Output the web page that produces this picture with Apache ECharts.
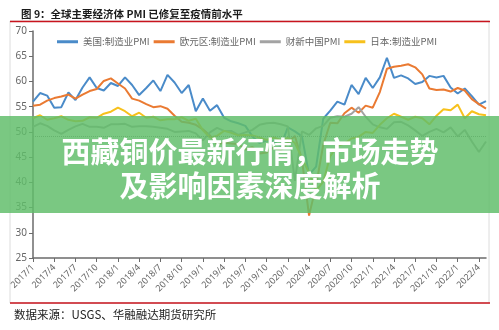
<!DOCTYPE html>
<html>
<head>
<meta charset="utf-8">
<script src="https://cdn.jsdelivr.net/npm/echarts@6/dist/echarts.min.js"></script>
<style>
html,body{margin:0;padding:0;background:#fff;}
#chart{width:499px;height:330px;}
</style>
</head>
<body>
<div id="chart"></div>
<script>
const months = [
'2017/1','2017/2','2017/3','2017/4','2017/5','2017/6','2017/7','2017/8','2017/9','2017/10','2017/11','2017/12',
'2018/1','2018/2','2018/3','2018/4','2018/5','2018/6','2018/7','2018/8','2018/9','2018/10','2018/11','2018/12',
'2019/1','2019/2','2019/3','2019/4','2019/5','2019/6','2019/7','2019/8','2019/9','2019/10','2019/11','2019/12',
'2020/1','2020/2','2020/3','2020/4','2020/5','2020/6','2020/7','2020/8','2020/9','2020/10','2020/11','2020/12',
'2021/1','2021/2','2021/3','2021/4','2021/5','2021/6','2021/7','2021/8','2021/9','2021/10','2021/11','2021/12',
'2022/1','2022/2','2022/3','2022/4','2022/5'
];
const usPMI = [
56.0,57.7,57.2,54.8,54.9,57.8,56.3,58.8,60.8,58.7,58.2,59.7,
59.1,60.8,59.3,57.3,58.7,60.2,58.1,61.3,59.8,57.7,59.3,54.1,
56.6,54.2,55.3,52.8,52.1,51.7,51.2,49.1,47.8,48.3,48.1,47.2,
50.9,50.1,49.1,41.5,43.1,52.6,54.2,56.0,55.4,59.3,57.5,60.7,
58.7,60.8,64.7,60.7,61.2,60.6,59.5,59.9,61.1,60.8,61.1,58.8,
57.6,58.6,57.1,55.4,56.1
];
const euroPMI = [
55.2,55.4,56.2,56.7,57.0,57.4,56.6,57.4,58.1,58.5,60.1,60.6,
59.6,58.6,56.6,56.2,55.5,54.9,55.1,54.6,53.2,52.0,51.8,51.4,
50.5,49.3,47.5,47.9,47.7,47.6,46.5,47.0,45.7,45.9,46.9,46.3,
47.9,49.2,44.5,33.4,39.4,47.4,51.8,51.7,53.7,54.8,53.8,55.2,
54.8,57.9,62.5,62.9,63.1,63.4,62.8,61.4,58.6,58.3,58.4,58.0,
58.7,58.2,56.5,55.5,54.6
];
const caixinPMI = [
51.0,51.7,51.2,50.3,49.6,50.4,51.1,51.6,51.0,51.0,50.8,51.5,
51.5,51.6,51.0,51.1,51.1,51.0,50.8,50.6,50.0,50.1,50.2,49.7,
48.3,49.9,50.8,50.2,50.2,49.4,49.9,50.4,51.4,51.7,51.8,51.5,
51.1,40.3,50.1,49.4,50.7,51.2,52.8,53.1,53.0,53.6,54.9,53.0,
51.5,50.9,50.6,51.9,52.0,51.3,50.3,49.2,50.0,50.6,49.9,50.9,
49.1,50.4,48.1,46.0,48.1
];
const japanPMI = [
52.7,53.3,52.4,52.7,53.1,52.4,52.1,52.2,52.9,52.8,53.6,54.0,
54.8,54.1,53.1,53.8,52.8,53.0,52.3,52.5,52.5,52.9,52.2,52.6,
50.3,48.9,49.2,50.2,49.8,49.3,49.4,49.3,48.9,48.4,48.9,48.4,
48.8,47.8,44.8,41.9,38.4,40.1,45.2,47.2,47.7,48.7,49.0,50.0,
49.8,51.4,52.7,53.6,53.0,52.4,53.0,52.7,51.5,53.2,54.5,54.3,
55.4,52.7,54.1,53.5,53.3
];
const seriesNames = ['美国:制造业PMI','欧元区:制造业PMI','财新中国PMI','日本:制造业PMI'];
const seriesColors = ['#4a8bc9','#ea7a32','#a3a3a3','#f7c11c'];
const refLevel = 49.2;

const chart = echarts.init(document.getElementById('chart'), null, {renderer:'canvas'});
const dataSets = [usPMI, euroPMI, caixinPMI, japanPMI];
const series = dataSets.map((d,i)=>({
  name: seriesNames[i],
  type:'line',
  data:d,
  showSymbol:false,
  symbol:'none',
  lineStyle:{width:2,color:seriesColors[i]},
  itemStyle:{color:seriesColors[i]},
  z: 2,
  markLine: i===0 ? {
    silent:true, symbol:'none', label:{show:false},
    lineStyle:{type:'dotted',color:'#7f7f7f',width:1},
    data:[{yAxis:refLevel}]
  } : undefined
}));

chart.setOption({
  animation:false,
  backgroundColor:'#fff',
  textStyle:{fontFamily:'"Noto Sans CJK SC", "Noto Sans", sans-serif'},
  title:{
    text:'图 9：全球主要经济体 PMI 已修复至疫情前水平',
    left:16, top:4,
    textStyle:{fontSize:10.5,fontWeight:'bold',color:'#1a1a1a',fontFamily:'"Noto Sans CJK SC", sans-serif'}
  },
  legend:{
    data:seriesNames,
    left:52, top:32,
    icon:'rect', itemWidth:21, itemHeight:3, itemGap:4,
    textStyle:{fontSize:9.5,color:'#666',fontFamily:'"Noto Sans CJK SC", sans-serif'}
  },
  grid:{left:33,right:13,top:31,bottom:72,containLabel:false},
  xAxis:{
    type:'category',
    data:months,
    boundaryGap:false,
    axisLine:{lineStyle:{color:'#6b6b6b',width:1.5}},
    axisTick:{show:true,interval:2,length:4,lineStyle:{color:'#6b6b6b'}},
    axisLabel:{interval:2,rotate:45,fontSize:9,color:'#666',margin:8,fontFamily:'"Noto Sans", sans-serif'},
    splitLine:{show:false}
  },
  yAxis:{
    type:'value',
    min:25,max:70,interval:5,
    axisLine:{show:true,lineStyle:{color:'#6b6b6b',width:1.5}},
    axisTick:{show:true,length:4,lineStyle:{color:'#6b6b6b'}},
    axisLabel:{fontSize:10,color:'#666',margin:6,fontFamily:'"Noto Sans", sans-serif'},
    splitLine:{show:false}
  },
  series:series,
  graphic:[
    {type:'rect',shape:{x:10,y:21,width:479,height:282},style:{fill:'none',stroke:'#dcdcdc',lineWidth:1},z:0,silent:true},
    {type:'line',shape:{x1:10,y1:21.5,x2:490,y2:21.5},style:{stroke:'#c8141e',lineWidth:1.5},z:10},
    {type:'line',shape:{x1:10,y1:303,x2:490,y2:303},style:{stroke:'#c8141e',lineWidth:1.5},z:10},
    {type:'text',left:14,top:309,style:{text:'数据来源：USGS、华融融达期货研究所',fontSize:11.5,fill:'#222',fontFamily:'"Noto Sans CJK SC", sans-serif'},z:10},
    {type:'rect',shape:{x:0,y:116,width:499,height:97},style:{fill:'rgba(96,190,106,0.84)'},z:100,silent:true},
    {type:'text',x:250,y:152,style:{text:'西藏铜价最新行情，市场走势',fontSize:29,fontWeight:'bold',fill:'#fff',align:'center',verticalAlign:'middle',fontFamily:'"Noto Sans CJK SC", sans-serif'},z:101},
    {type:'text',x:250,y:186,style:{text:'及影响因素深度解析',fontSize:29,fontWeight:'bold',fill:'#fff',align:'center',verticalAlign:'middle',fontFamily:'"Noto Sans CJK SC", sans-serif'},z:101}
  ]
});
</script>
</body>
</html>
